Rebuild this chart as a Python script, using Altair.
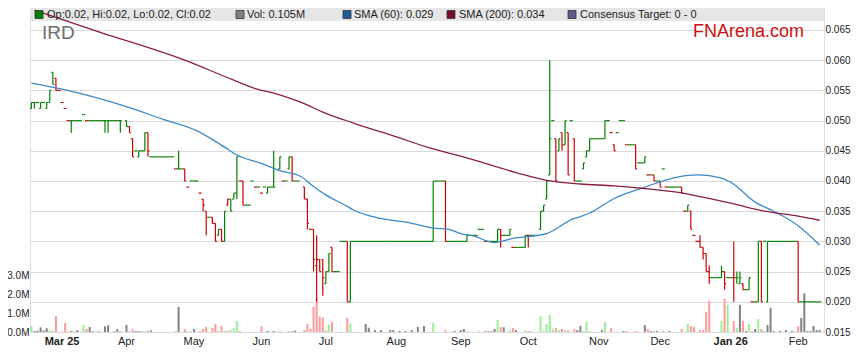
import altair as alt
import pandas as pd

# ---------------- data ----------------
# one entry per weekday, index 0 = 17 Feb 2025; None = no bar drawn
OPEN = [
    0.052, 0.053, 0.053, 0.052, 0.053, 0.052, 0.053, 0.058, 0.057, 0.055,
    0.053, 0.052, 0.050, 0.050, 0.050, 0.050, 0.050, 0.051, 0.050, 0.050,
    0.050, 0.050, 0.050, 0.050, 0.050, 0.050, 0.050, 0.050, 0.050, 0.050,
    None, 0.050, 0.049, 0.047, 0.045, 0.044, 0.045, 0.045, 0.048, 0.044,
    0.044, 0.044, 0.044, 0.044, 0.044, 0.044, 0.044, 0.042, 0.042, 0.042,
    0.042, 0.039, 0.040, 0.040, 0.040, 0.038, 0.037, 0.035, 0.034, 0.034,
    0.033, 0.031, 0.032, 0.030, 0.036, 0.037, 0.037, 0.038, 0.040, 0.040,
    0.036, 0.036, 0.040, 0.039, 0.039, 0.038, 0.039, 0.038, 0.039, 0.039,
    None, 0.042, 0.040, 0.040, 0.042, 0.044, 0.040, 0.040, None, 0.039,
    0.037, 0.032, 0.032, 0.026, 0.027, 0.027, 0.023, 0.025, 0.029, 0.025,
    0.025, 0.030, 0.030, 0.030, 0.020, 0.030, 0.030, 0.030, 0.030, 0.030,
    0.030, 0.030, 0.030, 0.030, 0.030, 0.030, 0.030, 0.030, 0.030, 0.030,
    0.030, 0.030, 0.030, 0.030, 0.030, 0.030, 0.030, 0.030, 0.030, 0.030,
    0.030, 0.030, 0.040, 0.040, 0.040, 0.040, 0.030, 0.030, 0.030, 0.030,
    0.030, 0.030, 0.030, 0.031, 0.031, 0.031, 0.032, 0.032, 0.030, 0.030,
    0.030, 0.030, 0.030, 0.032, 0.031, 0.031, 0.031, 0.029, 0.029, 0.029,
    0.029, 0.029, 0.031, 0.031, 0.031, 0.031, 0.032, 0.035, 0.037, 0.041,
    0.050, 0.047, 0.045, 0.048, 0.046, 0.048, 0.050, 0.047, 0.040, 0.040,
    0.042, 0.044, 0.045, 0.047, 0.047, 0.047, 0.047, 0.047, 0.050, 0.048,
    0.046, 0.048, 0.050, 0.050, 0.046, 0.046, 0.046, 0.046, 0.043, 0.043,
    0.043, 0.041, 0.041, 0.041, 0.040, 0.040, 0.042, 0.039, 0.039, 0.039,
    0.039, 0.039, 0.039, 0.035, 0.035, 0.035, 0.031, 0.030, 0.030, 0.029,
    0.028, 0.025, 0.024, 0.024, 0.024, 0.024, 0.025, 0.024, 0.024, 0.024,
    0.024, 0.023, 0.023, 0.022, 0.022, 0.020, 0.020, 0.020, 0.030, 0.030,
    0.020, 0.030, 0.030, 0.030, 0.030, 0.030, 0.030, 0.030, 0.030, 0.030,
    0.030, 0.020, 0.020, 0.020, 0.020, 0.020, 0.020, 0.020,
]
HIGH = [
    0.053, 0.053, 0.053, 0.053, 0.053, 0.053, 0.055, 0.058, 0.057, 0.055,
    0.053, 0.052, 0.050, 0.050, 0.050, 0.050, 0.050, 0.051, 0.050, 0.050,
    0.050, 0.050, 0.050, 0.050, 0.050, 0.050, 0.050, 0.050, 0.050, 0.050,
    None, 0.050, 0.049, 0.047, 0.045, 0.045, 0.045, 0.048, 0.048, 0.044,
    0.044, 0.044, 0.044, 0.044, 0.044, 0.044, 0.044, 0.042, 0.045, 0.042,
    0.042, 0.039, 0.040, 0.040, 0.040, 0.038, 0.037, 0.035, 0.034, 0.034,
    0.033, 0.032, 0.032, 0.035, 0.037, 0.037, 0.038, 0.044, 0.040, 0.040,
    0.036, 0.036, 0.040, 0.039, 0.039, 0.038, 0.039, 0.039, 0.039, 0.045,
    None, 0.044, 0.040, 0.040, 0.044, 0.044, 0.040, 0.040, None, 0.039,
    0.037, 0.032, 0.032, 0.031, 0.027, 0.027, 0.025, 0.028, 0.029, 0.025,
    0.025, 0.030, 0.030, 0.030, 0.030, 0.030, 0.030, 0.030, 0.030, 0.030,
    0.030, 0.030, 0.030, 0.030, 0.030, 0.030, 0.030, 0.030, 0.030, 0.030,
    0.030, 0.030, 0.030, 0.030, 0.030, 0.030, 0.030, 0.030, 0.030, 0.030,
    0.030, 0.040, 0.040, 0.040, 0.040, 0.040, 0.030, 0.030, 0.030, 0.030,
    0.030, 0.030, 0.031, 0.031, 0.031, 0.031, 0.032, 0.032, 0.030, 0.030,
    0.030, 0.030, 0.032, 0.032, 0.031, 0.031, 0.032, 0.029, 0.029, 0.029,
    0.029, 0.031, 0.031, 0.031, 0.031, 0.031, 0.035, 0.036, 0.040, 0.060,
    0.050, 0.047, 0.047, 0.048, 0.050, 0.048, 0.050, 0.047, 0.040, 0.040,
    0.043, 0.045, 0.047, 0.047, 0.047, 0.047, 0.047, 0.050, 0.050, 0.048,
    0.046, 0.048, 0.050, 0.050, 0.046, 0.046, 0.046, 0.046, 0.043, 0.043,
    0.044, 0.041, 0.041, 0.041, 0.040, 0.040, 0.042, 0.039, 0.039, 0.039,
    0.039, 0.039, 0.039, 0.035, 0.036, 0.035, 0.031, 0.030, 0.031, 0.029,
    0.028, 0.026, 0.024, 0.024, 0.024, 0.026, 0.025, 0.024, 0.024, 0.030,
    0.025, 0.025, 0.023, 0.022, 0.024, 0.020, 0.020, 0.030, 0.030, 0.030,
    0.030, 0.030, 0.030, 0.030, 0.030, 0.030, 0.030, 0.030, 0.030, 0.030,
    0.030, 0.020, 0.020, 0.020, 0.020, 0.020, 0.020, 0.020,
]
LOW = [
    0.052, 0.052, 0.053, 0.052, 0.053, 0.052, 0.053, 0.056, 0.055, 0.055,
    0.053, 0.052, 0.050, 0.048, 0.050, 0.050, 0.050, 0.051, 0.050, 0.050,
    0.050, 0.050, 0.050, 0.050, 0.048, 0.048, 0.050, 0.050, 0.050, 0.048,
    None, 0.049, 0.048, 0.044, 0.045, 0.044, 0.045, 0.045, 0.044, 0.044,
    0.044, 0.044, 0.044, 0.044, 0.044, 0.044, 0.044, 0.042, 0.042, 0.042,
    0.040, 0.039, 0.040, 0.040, 0.040, 0.038, 0.035, 0.031, 0.034, 0.033,
    0.030, 0.031, 0.030, 0.030, 0.036, 0.035, 0.037, 0.037, 0.040, 0.036,
    0.036, 0.036, 0.040, 0.039, 0.039, 0.038, 0.039, 0.038, 0.039, 0.039,
    None, 0.042, 0.040, 0.040, 0.042, 0.040, 0.040, 0.040, None, 0.037,
    0.032, 0.032, 0.025, 0.020, 0.025, 0.021, 0.023, 0.025, 0.025, 0.025,
    0.025, 0.030, 0.030, 0.020, 0.020, 0.030, 0.030, 0.030, 0.030, 0.030,
    0.030, 0.030, 0.030, 0.030, 0.030, 0.030, 0.030, 0.030, 0.030, 0.030,
    0.030, 0.030, 0.030, 0.030, 0.030, 0.030, 0.030, 0.030, 0.030, 0.030,
    0.030, 0.030, 0.040, 0.040, 0.040, 0.030, 0.030, 0.030, 0.030, 0.030,
    0.030, 0.030, 0.030, 0.031, 0.031, 0.031, 0.032, 0.032, 0.030, 0.030,
    0.030, 0.030, 0.030, 0.029, 0.031, 0.031, 0.031, 0.029, 0.029, 0.029,
    0.029, 0.029, 0.029, 0.031, 0.031, 0.031, 0.032, 0.035, 0.037, 0.041,
    0.050, 0.040, 0.045, 0.045, 0.046, 0.041, 0.050, 0.040, 0.040, 0.040,
    0.042, 0.044, 0.045, 0.047, 0.047, 0.047, 0.047, 0.047, 0.050, 0.048,
    0.045, 0.048, 0.050, 0.050, 0.046, 0.046, 0.046, 0.042, 0.043, 0.043,
    0.043, 0.041, 0.041, 0.040, 0.040, 0.039, 0.042, 0.039, 0.039, 0.039,
    0.039, 0.039, 0.038, 0.035, 0.035, 0.032, 0.031, 0.030, 0.029, 0.027,
    0.025, 0.023, 0.024, 0.024, 0.024, 0.024, 0.022, 0.024, 0.024, 0.020,
    0.023, 0.023, 0.022, 0.022, 0.022, 0.020, 0.020, 0.020, 0.020, 0.030,
    0.020, 0.030, 0.030, 0.030, 0.030, 0.030, 0.030, 0.030, 0.030, 0.030,
    0.020, 0.020, 0.020, 0.020, 0.020, 0.020, 0.020, 0.020,
]
CLOSE = [
    0.053, 0.053, 0.053, 0.053, 0.053, 0.053, 0.055, 0.056, 0.055, 0.055,
    0.053, 0.052, 0.050, 0.050, 0.050, 0.050, 0.050, 0.051, 0.050, 0.050,
    0.050, 0.050, 0.050, 0.050, 0.050, 0.050, 0.050, 0.050, 0.050, 0.050,
    None, 0.049, 0.048, 0.044, 0.045, 0.045, 0.045, 0.048, 0.045, 0.044,
    0.044, 0.044, 0.044, 0.044, 0.044, 0.044, 0.044, 0.042, 0.042, 0.042,
    0.040, 0.039, 0.040, 0.040, 0.040, 0.038, 0.036, 0.034, 0.034, 0.033,
    0.030, 0.032, 0.030, 0.035, 0.037, 0.035, 0.038, 0.044, 0.040, 0.036,
    0.036, 0.036, 0.040, 0.039, 0.039, 0.038, 0.039, 0.039, 0.039, 0.039,
    None, 0.044, 0.040, 0.040, 0.044, 0.040, 0.040, 0.040, None, 0.037,
    0.033, 0.032, 0.027, 0.027, 0.025, 0.024, 0.025, 0.028, 0.025, 0.025,
    0.025, 0.030, 0.030, 0.020, 0.030, 0.030, 0.030, 0.030, 0.030, 0.030,
    0.030, 0.030, 0.030, 0.030, 0.030, 0.030, 0.030, 0.030, 0.030, 0.030,
    0.030, 0.030, 0.030, 0.030, 0.030, 0.030, 0.030, 0.030, 0.030, 0.030,
    0.030, 0.040, 0.040, 0.040, 0.040, 0.030, 0.030, 0.030, 0.030, 0.030,
    0.030, 0.030, 0.031, 0.031, 0.031, 0.031, 0.032, 0.032, 0.030, 0.030,
    0.030, 0.030, 0.032, 0.031, 0.031, 0.031, 0.032, 0.029, 0.029, 0.029,
    0.029, 0.031, 0.031, 0.031, 0.031, 0.031, 0.035, 0.036, 0.040, 0.047,
    0.050, 0.040, 0.047, 0.046, 0.050, 0.041, 0.050, 0.040, 0.040, 0.040,
    0.043, 0.045, 0.047, 0.047, 0.047, 0.047, 0.047, 0.050, 0.050, 0.048,
    0.045, 0.048, 0.050, 0.050, 0.046, 0.046, 0.046, 0.042, 0.043, 0.043,
    0.044, 0.041, 0.041, 0.040, 0.040, 0.039, 0.042, 0.039, 0.039, 0.039,
    0.039, 0.039, 0.038, 0.035, 0.036, 0.032, 0.031, 0.030, 0.029, 0.028,
    0.025, 0.024, 0.024, 0.024, 0.024, 0.025, 0.023, 0.024, 0.024, 0.024,
    0.024, 0.024, 0.022, 0.022, 0.024, 0.020, 0.020, 0.030, 0.020, 0.030,
    0.030, 0.030, 0.030, 0.030, 0.030, 0.030, 0.030, 0.030, 0.030, 0.030,
    0.020, 0.020, 0.020, 0.020, 0.020, 0.020, 0.020, 0.020,
]
# volume in millions of shares
VOLUME = [
    0.32, 0.05, 0.07, 0.25, 0.08, 0.20, 0.10, 0.07, 0.86, 0,
    0.03, 0.48, 0.02, 0.05, 0.02, 0.10, 0, 0.37, 0.16, 0.27,
    0.05, 0, 0.04, 0, 0.30, 0.36, 0, 0.03, 0.16, 0.03,
    0, 0.37, 0.03, 0.16, 0.05, 0.04, 0.03, 0.04, 0.07, 0.08,
    0, 0, 0, 0, 0, 0, 0, 0.04, 1.34, 0,
    0.16, 0.02, 0.05, 0.16, 0, 0.04, 0.16, 0.27, 0, 0.21,
    0.43, 0.06, 0.32, 0.06, 0.06, 0.10, 0.20, 0.59, 0.05, 0,
    0, 0, 0, 0, 0, 0.30, 0, 0.05, 0, 0.05,
    0, 0.05, 0, 0, 0.05, 0.05, 0.07, 0, 0, 0.10,
    0.43, 0.18, 1.34, 1.77, 0.82, 0.77, 0.10, 0.39, 0.54, 0,
    0, 0, 0, 0.75, 0.45, 0, 0, 0, 0, 0.43,
    0.23, 0, 0.10, 0, 0.10, 0, 0, 0.10, 0.10, 0,
    0.05, 0, 0.05, 0, 0.10, 0, 0.27, 0, 0.32, 0,
    0, 0.50, 0, 0, 0, 0.10, 0, 0, 0.05, 0,
    0.10, 0.16, 0.04, 0, 0, 0, 0.04, 0, 0.08, 0.04,
    0.04, 0.16, 0.64, 0.27, 0.25, 0, 0.10, 0.21, 0.10, 0,
    0, 0.10, 0.05, 0.05, 0, 0, 0.86, 0.07, 0.43, 0.91,
    0.18, 0.21, 0.10, 0.16, 0.10, 0.09, 0, 0.16, 0.10, 0.32,
    0.05, 0.54, 0.05, 0, 0, 0, 0.10, 0.54, 0, 0.21,
    0, 0, 0, 0.05, 0.05, 0, 0, 0.05, 0, 0,
    0.37, 0.16, 0.05, 0.05, 0.05, 0, 0.10, 0, 0.05, 0,
    0, 0, 0.16, 0, 0.43, 0.32, 0.27, 0, 0.10, 0.10,
    1.07, 1.68, 0, 0, 0, 0.59, 1.77, 1.45, 0, 0.59,
    0.21, 1.45, 0.59, 0.05, 0.43, 0.05, 0.16, 0.70, 0.16, 0.05,
    0.37, 1.29, 0.05, 0, 0.05, 0, 0.10, 0, 0.05, 0,
    0.32, 0.75, 2.07, 0.05, 0.05, 0.32, 0.10, 0.105,
]
# u = up, d = down, n = unchanged (one letter per weekday)
DIRECTION = list("".join([
    "unnnnnuudd", "dddnnnnudn", "nnnnnnnnnn", "nnddnnnudn", "nnnnnnndnn",
    "ddunndddnd", "dududuuudd", "nnudndunnn", "nudnudnnnd", "dddddduudn",
    "nundunnnnn", "nnnnnnnnnn", "nnnnnnnnnn", "nunnndnnnn", "nnunnnundn",
    "nnudnnudnn", "nudunnuuuu", "ududududnn", "uuunnnnund", "duundnndun",
    "ndndndudnn", "nndduddddd", "ddnnnudund", "undnudnudu", "nnnnnnnnnn",
    "dnnnnnnn",
]))

SMA60_DAY = [0, 10, 31, 43, 54, 63, 67, 75, 81, 88, 92, 96, 103, 105, 114, 124, 131,
             136, 140, 144, 151, 157, 168, 177, 179, 182, 190, 199, 211, 217, 224,
             228, 236, 242, 250, 257]
SMA60 = [0.0562, 0.0552, 0.0523, 0.0502, 0.0483, 0.0456, 0.0443, 0.0429, 0.0417,
         0.0407, 0.0391, 0.0377, 0.0358, 0.0352, 0.0338, 0.0330, 0.0322, 0.0320,
         0.0313, 0.0309, 0.0298, 0.0305, 0.0313, 0.0338, 0.0341, 0.0347, 0.0371,
         0.0388, 0.0407, 0.0410, 0.0406, 0.0398, 0.0365, 0.0350, 0.0326, 0.0294]
SMA200_DAY = [1, 22, 50, 66, 75, 77, 88, 96, 105, 119, 131, 140, 158, 168, 179, 190,
              199, 211, 220, 229, 239, 250, 257]
SMA200 = [0.0683, 0.0647, 0.0600, 0.0567, 0.0550, 0.0548, 0.0530, 0.0512, 0.0496,
          0.0473, 0.0453, 0.0441, 0.0414, 0.0401, 0.0395, 0.0392, 0.0388, 0.0381,
          0.0372, 0.0362, 0.0350, 0.0342, 0.0335]

MONTH_TICKS = [10, 31, 53, 75, 96, 119, 140, 162, 185, 205, 228, 250]
MONTH_LABELS = ["Mar 25", "Apr", "May", "Jun", "Jul", "Aug", "Sep", "Oct", "Nov",
                "Dec", "Jan 26", "Feb"]
BOLD_TICKS = [10, 228]
PRICE_TICKS = [0.015, 0.020, 0.025, 0.030, 0.035, 0.040, 0.045, 0.050, 0.055, 0.060, 0.065]
VOLUME_TICKS = [0, 1, 2, 3]

LEGEND_LABELS = ["Op:0.02, Hi:0.02, Lo:0.02, Cl:0.02", "Vol: 0.105M", "SMA (60): 0.029",
                 "SMA (200): 0.034", "Consensus Target: 0 - 0"]
TICKER = "IRD"
BRAND = "FNArena.com"

# ---------------- styling ----------------
FONT = "Liberation Sans"
GREEN = "#008000"
RED = "#cc0000"
VOL_GREEN = "#9cec9c"
VOL_RED = "#ff9a9a"
VOL_GRAY = "#828282"
SMA60_COLOR = "#3a89c9"
SMA200_COLOR = "#8b1e40"
GRID = "#dadada"
LEGEND_SWATCH = [GREEN, "#808080", "#1f5c99", "#7a0c2c", "#5c5c8c"]
LEGEND_SWATCH_X = [5, 206, 313, 417, 538]
LEGEND_TEXT_X = [17, 217, 324, 429, 550]

W, H = 794, 324
PX_PER_DAY = 3.0672
X_MIN = -0.45
X_MAX = X_MIN + W / PX_PER_DAY

rows = []
for i in range(len(OPEN)):
    if OPEN[i] is None:
        continue
    d = DIRECTION[i]
    rows.append(dict(day=i, xl=i - 0.5, xr=i + 0.5, open=OPEN[i], high=HIGH[i],
                     low=LOW[i], close=CLOSE[i], vol=VOLUME[i],
                     pc=RED if d == "d" else GREEN,
                     vc={"u": VOL_GREEN, "d": VOL_RED}.get(d, VOL_GRAY)))
df = pd.DataFrame(rows)
vol_df = df[df["vol"] > 0]
sma60_df = pd.DataFrame({"day": SMA60_DAY, "value": SMA60})
sma200_df = pd.DataFrame({"day": SMA200_DAY, "value": SMA200})
months_df = pd.DataFrame({"day": MONTH_TICKS, "label": MONTH_LABELS,
                          "bold": [d in BOLD_TICKS for d in MONTH_TICKS]})

xs = alt.Scale(domain=[X_MIN, X_MAX], nice=False, zero=False)
ps = alt.Scale(domain=[0.015, 0.068642], nice=False, zero=False)
vs = alt.Scale(domain=[0, 17.33], nice=False, zero=True)

x_axis = alt.Axis(values=MONTH_TICKS, labels=False, title=None, grid=True,
                  gridColor=GRID, gridWidth=1, tickSize=3, tickColor="#888888",
                  domain=False)
price_axis = alt.Axis(orient="right", values=PRICE_TICKS, format=".3f", title=None,
                      grid=True, gridColor=GRID, gridWidth=1, ticks=False, domain=False,
                      labelPadding=1, labelFontSize=10, labelColor="#222222",
                      labelFont=FONT, labelFlush=False, labelOverlap=False)
vol_axis = alt.Axis(orient="left", values=VOLUME_TICKS, title=None, grid=False,
                    ticks=False, domain=False, labelPadding=1, labelFontSize=10,
                    labelColor="#222222", labelFont=FONT,
                    labelExpr="format(datum.value, '.1f') + 'M'")

one = alt.Data(values=[{}])

strip = alt.Chart(one).mark_rect(color="#e6e6e6").encode(
    x=alt.value(0), x2=alt.value(W), y=alt.value(0), y2=alt.value(13))

volume = alt.Chart(vol_df).mark_rule(strokeWidth=2).encode(
    x=alt.X("day:Q", scale=xs, axis=None),
    y=alt.Y("vol:Q", scale=vs, axis=vol_axis),
    y2=alt.datum(0),
    color=alt.Color("vc:N", scale=None))

hl = alt.Chart(df).mark_rule(strokeWidth=1.2).encode(
    x=alt.X("day:Q", scale=xs, axis=x_axis),
    y=alt.Y("low:Q", scale=ps, axis=price_axis),
    y2="high:Q",
    color=alt.Color("pc:N", scale=None))
open_tick = alt.Chart(df).mark_rule(strokeWidth=1.2).encode(
    x=alt.X("xl:Q", scale=xs, axis=None), x2="day:Q",
    y=alt.Y("open:Q", scale=ps, axis=None),
    color=alt.Color("pc:N", scale=None))
close_tick = alt.Chart(df).mark_rule(strokeWidth=1.2).encode(
    x=alt.X("day:Q", scale=xs, axis=None), x2="xr:Q",
    y=alt.Y("close:Q", scale=ps, axis=None),
    color=alt.Color("pc:N", scale=None))

sma60 = alt.Chart(sma60_df).mark_line(color=SMA60_COLOR, strokeWidth=1.3,
                                      interpolate="monotone").encode(
    x=alt.X("day:Q", scale=xs, axis=None), y=alt.Y("value:Q", scale=ps, axis=None))
sma200 = alt.Chart(sma200_df).mark_line(color=SMA200_COLOR, strokeWidth=1.3,
                                        interpolate="monotone").encode(
    x=alt.X("day:Q", scale=xs, axis=None), y=alt.Y("value:Q", scale=ps, axis=None))

month_normal = alt.Chart(months_df).transform_filter("!datum.bold").mark_text(
    baseline="middle", fontSize=11, font=FONT, color="#222222").encode(
    x=alt.X("day:Q", scale=xs, axis=None), y=alt.value(H + 10), text="label:N")
month_bold = alt.Chart(months_df).transform_filter("datum.bold").mark_text(
    baseline="middle", fontSize=11, font=FONT, color="#222222", fontWeight="bold").encode(
    x=alt.X("day:Q", scale=xs, axis=None), y=alt.value(H + 10), text="label:N")

legend_layers = []
for label, col, sx, tx in zip(LEGEND_LABELS, LEGEND_SWATCH, LEGEND_SWATCH_X, LEGEND_TEXT_X):
    legend_layers.append(alt.Chart(one).mark_rect(fill=col, stroke="#333333",
                                                  strokeWidth=0.8).encode(
        x=alt.value(sx), x2=alt.value(sx + 8), y=alt.value(2.5), y2=alt.value(10.5)))
    legend_layers.append(alt.Chart(one).mark_text(
        align="left", baseline="middle", fontSize=11, font=FONT, color="#222222").encode(
        x=alt.value(tx), y=alt.value(7), text=alt.value(label)))

ticker = alt.Chart(one).mark_text(align="left", baseline="middle", fontSize=19,
                                  font=FONT, color="#6e6e6e").encode(
    x=alt.value(12), y=alt.value(25), text=alt.value(TICKER))
brand = alt.Chart(one).mark_text(align="left", baseline="middle", fontSize=18,
                                 font=FONT, color="#cc1111").encode(
    x=alt.value(663), y=alt.value(24), text=alt.value(BRAND))

chart = alt.layer(
    strip, volume, hl, open_tick, close_tick, sma60, sma200, month_normal, month_bold,
    ticker, brand, *legend_layers
).resolve_scale(y="independent").properties(
    width=W, height=H,
    autosize=alt.AutoSizeParams(type="none"),
    padding={"left": 22, "top": 0, "right": 27, "bottom": 20},
).configure_view(stroke="#8c8c8c", strokeWidth=1).configure(font=FONT)

chart.save("out.html", embed_options={"renderer": "svg", "actions": False})
